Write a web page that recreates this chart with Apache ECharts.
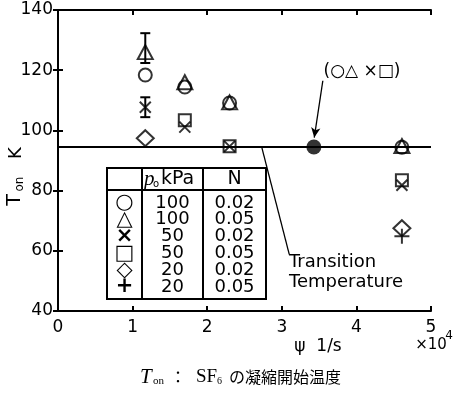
<!DOCTYPE html>
<html><head><meta charset="utf-8">
<script src="https://cdn.jsdelivr.net/npm/echarts@6/dist/echarts.min.js"></script>
<style>html,body{margin:0;padding:0;background:#fff}#c{width:456px;height:395px}</style>
</head><body><div id="c"></div>
<script>
const xMin = 0, xMax = 5, xStep = 1;
const yMin = 40, yMax = 140, yStep = 20;
const circleData   = [[1.17,118.4],[1.70,114.4],[2.30,109.1],[4.61,94.4]];
const triangleData = [[1.17,126.0],[1.70,116.0],[2.30,109.3],[4.61,94.8]];
const crossData    = [[1.17,107.7],[1.70,101.1],[2.30,94.7],[4.61,81.8]];
const squareData   = [[1.70,103.4],[2.30,94.7],[4.61,83.4]];
const diamondData  = [[1.17,97.4],[4.61,67.5]];
const plusData     = [[4.61,64.8]];
const onsetPoint   = [[3.43,94.5]];
const transitionTemp = 94.5;
const errorBars = [[1.17,122.4,132.3],[1.17,104.4,111.0]];
const tableSymbols  = ['○','△','×','□','◇','+'];
const tablePressure = ['100','100','50','50','20','20'];
const tableN        = ['0.02','0.05','0.02','0.05','0.02','0.05'];

const chart = echarts.init(document.getElementById('c'), null, {renderer:'canvas'});
const F = 'DejaVu Sans';
const SERIF = '"Liberation Serif"';
const CJK = '"Noto Sans CJK JP"';
const hollow = {color:'rgba(0,0,0,0)', borderColor:'#000', borderWidth:2};
function sc(name, data, symbol, size) {
  return {type:'scatter', name, data, symbol, symbolSize:size, itemStyle:hollow, z:5, silent:true};
}
function txt(x, y, text, font, align, extra) {
  return Object.assign({type:'text', x, y, z:12, style:{text, font, fill:'#000', align:align||'left', verticalAlign:'middle'}}, extra||{});
}
const axisCommon = {
  axisLine:{show:true, lineStyle:{color:'#000', width:2}},
  axisTick:{show:true, inside:true, length:5, lineStyle:{color:'#000', width:2}},
  splitLine:{show:false}
};
// table graphics
const tb = {x:107, y:168, w:159, h:131, c1:142, c2:203, hy:190, r0:203, rh:16.8};
const tableEls = [
  {type:'rect', shape:{x:tb.x, y:tb.y, width:tb.w, height:tb.h}, style:{fill:'#fff', stroke:'#000', lineWidth:2}, z:10},
  {type:'line', shape:{x1:tb.c1, y1:tb.y, x2:tb.c1, y2:tb.y+tb.h}, style:{stroke:'#000', lineWidth:2}, z:11},
  {type:'line', shape:{x1:tb.c2, y1:tb.y, x2:tb.c2, y2:tb.y+tb.h}, style:{stroke:'#000', lineWidth:2}, z:11},
  {type:'line', shape:{x1:tb.x, y1:tb.hy, x2:tb.x+tb.w, y2:tb.hy}, style:{stroke:'#000', lineWidth:2}, z:11},
  txt(144, 179, 'p', 'italic 21px '+SERIF),
  txt(153, 184, 'o', '10px '+F),
  txt(161, 179, 'kPa', '19px '+F),
  txt((tb.c2+tb.x+tb.w)/2, 179, 'N', '19px '+F, 'center')
];
tableSymbols.forEach((s,i)=>{
  const yy = tb.r0 + i*tb.rh;
  tableEls.push(txt((tb.x+tb.c1)/2, yy, s, 'bold 21px '+F, 'center'));
  tableEls.push(txt((tb.c1+tb.c2)/2, yy, tablePressure[i], '18px '+F, 'center'));
  tableEls.push(txt((tb.c2+tb.x+tb.w)/2, yy, tableN[i], '18px '+F, 'center'));
});
const rot = {rotation:Math.PI/2};

const option = {
  animation:false,
  backgroundColor:'#fff',
  grid:{left:58, right:25, top:10, bottom:84},
  xAxis:[
    Object.assign({type:'value', min:xMin, max:xMax, interval:xStep, position:'bottom',
      axisLabel:{color:'#000', fontSize:17, fontFamily:F, margin:8}}, axisCommon),
    Object.assign({type:'value', min:xMin, max:xMax, interval:xStep, position:'top',
      axisLabel:{show:false}}, axisCommon)
  ],
  yAxis:[
    Object.assign({type:'value', min:yMin, max:yMax, interval:yStep, position:'left',
      axisLabel:{color:'#000', fontSize:17, fontFamily:F, margin:5}}, axisCommon),
    Object.assign({type:'value', min:yMin, max:yMax, interval:yStep, position:'right',
      axisLabel:{show:false}}, axisCommon)
  ],
  series:[
    {type:'custom', name:'err', data:errorBars, encode:{x:0, y:[1,2]}, silent:true, z:4,
      renderItem:(p, api)=>{
        const x = api.value(0);
        const lo = api.coord([x, api.value(1)]), hi = api.coord([x, api.value(2)]);
        const w = 5, st = {stroke:'#000', lineWidth:2};
        return {type:'group', children:[
          {type:'line', shape:{x1:lo[0], y1:lo[1], x2:hi[0], y2:hi[1]}, style:st},
          {type:'line', shape:{x1:lo[0]-w, y1:lo[1], x2:lo[0]+w, y2:lo[1]}, style:st},
          {type:'line', shape:{x1:hi[0]-w, y1:hi[1], x2:hi[0]+w, y2:hi[1]}, style:st}
        ]};
      }},
    {type:'scatter', name:'onset', data:onsetPoint, symbol:'circle', symbolSize:15, itemStyle:{color:'#000'}, z:6, silent:true,
      markLine:{silent:true, animation:false, label:{show:false}, lineStyle:{color:'#000', type:'solid', width:2},
        data:[
          [{xAxis:xMin, yAxis:transitionTemp, symbol:'none'}, {xAxis:xMax, yAxis:transitionTemp, symbol:'none'}],
          [{coord:[3.55,116.5], symbol:'none', lineStyle:{width:1.3}}, {coord:[3.435,97.6], symbol:'arrow', symbolSize:[7,10]}],
          [{coord:[2.73,transitionTemp], symbol:'none', lineStyle:{width:1.3}}, {coord:[3.10,58.8], symbol:'none'}]
        ]}},
    sc('circle', circleData, 'circle', 13),
    sc('triangle', triangleData, 'triangle', [15,14]),
    sc('cross', crossData, 'path://M0,0L10,10M10,0L0,10', 11),
    sc('square', squareData, 'rect', 12),
    sc('diamond', diamondData, 'diamond', [17,16]),
    sc('plus', plusData, 'path://M5,0L5,10M0,5L10,5', 15)
  ],
  graphic:[
    ...tableEls,
    // y axis name: T_on  K (rotated)
    txt(15, 200, 'T', '19px '+F, 'center', rot),
    txt(20, 184, 'on', '12px '+F, 'center', rot),
    txt(16, 153, 'K', '18px '+F, 'center', rot),
    txt(362, 72, '(○△ ×□)', '17px '+F, 'center'),
    txt(289, 262, 'Transition', '18px '+F),
    txt(289, 282, 'Temperature', '18px '+F),
    txt(318, 347, 'ψ  1/s', '17px '+F, 'center'),
    txt(431, 345, '×10', '15px '+F, 'center'),
    txt(449, 336, '4', '12px '+F, 'center'),
    // caption
    txt(140, 377, 'T', 'italic 21px '+SERIF),
    txt(153, 381, 'on', '11px '+SERIF),
    txt(178, 377, '：', '16px '+CJK, 'center'),
    txt(196, 377, 'SF', '19px '+SERIF),
    txt(217, 381, '6', '10px '+SERIF),
    txt(229, 377, 'の凝縮開始温度', '16px '+CJK)
  ]
};
chart.setOption(option);
</script></body></html>
